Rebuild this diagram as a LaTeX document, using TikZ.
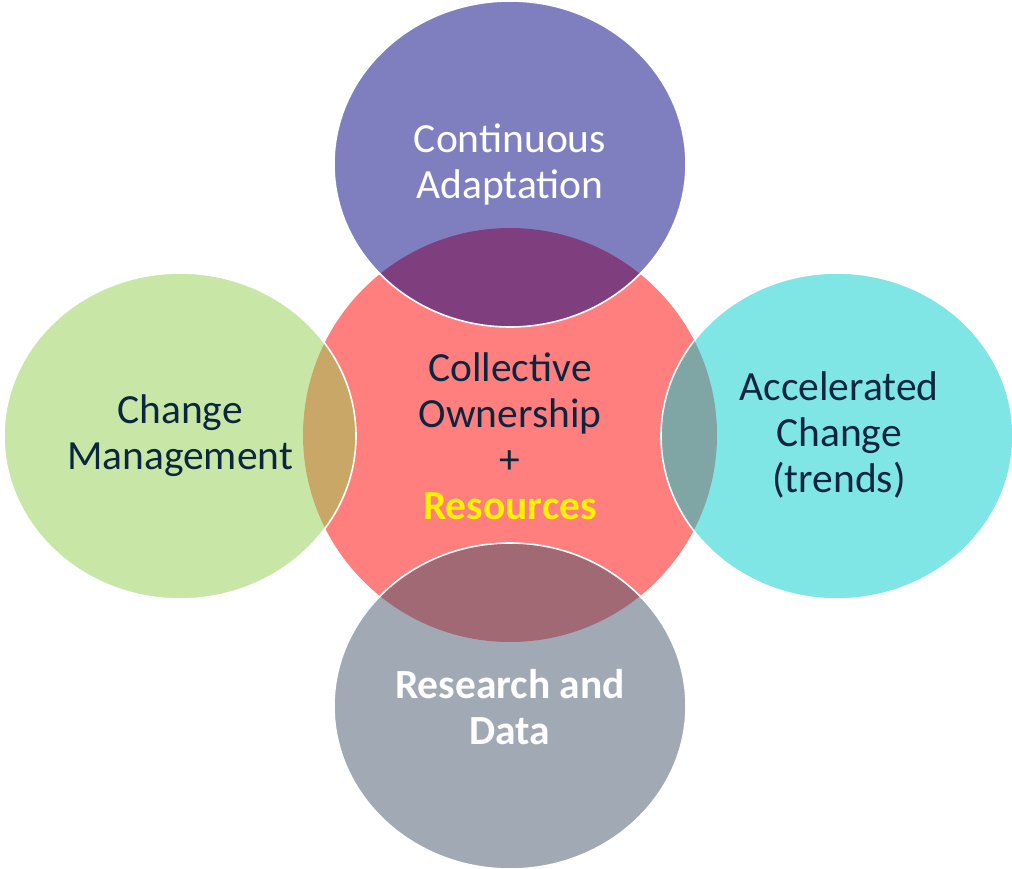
\documentclass[tikz,border=0pt]{standalone}
\usepackage{fontspec}
\setmainfont{Carlito}
\usetikzlibrary{shapes.geometric}
\definecolor{inkdark}{RGB}{12,38,64}
\definecolor{hubred}{RGB}{255,0,0}
\definecolor{petalnavy}{RGB}{0,0,128}
\definecolor{petalgreen}{RGB}{146,208,80}
\definecolor{petalcyan}{RGB}{0,204,204}
\definecolor{petalslate}{RGB}{68,84,106}
\begin{document}
\begin{tikzpicture}[x=1pt,y=-1pt,
  hub/.style={circle,minimum size=414pt,inner sep=0pt,fill=hubred,fill opacity=0.5,text opacity=1,draw=none},
  petal/.style={ellipse,minimum width=352pt,minimum height=326pt,inner sep=0pt,
    fill=#1,fill opacity=0.5,text opacity=1,draw=white,line width=1.6pt},
  label/.style={font=\fontsize{41.5}{46}\selectfont,align=center,text=inkdark}
]
\useasboundingbox (0,0) rectangle (1012,869);
% central circle
\node[hub] (hub) at (510,435) {};
% four surrounding ellipses
\node[petal=petalnavy] (top) at (510,164) {};
\node[petal=petalgreen] (left) at (180,436) {};
\node[petal=petalcyan] (right) at (837,436) {};
\node[petal=petalslate] (bottom) at (510,706) {};
% texts
\node[label,text=white] (toptext) at (510,164) {Continuous\\Adaptation};
\node[label] (lefttext) at (180,436) {Change\\Management};
\node[label] (righttext) at (839,435) {Accelerated\\Change\\(trends)};
\node[label] (hubtext) at (510,436) {Collective\\Ownership\\+\\\textcolor{yellow}{\textbf{Resources}}};
\node[label,text=white,font=\fontsize{41.5}{46}\selectfont\bfseries] (bottomtext) at (510,707) {Research and\\Data};
\end{tikzpicture}
\end{document}
